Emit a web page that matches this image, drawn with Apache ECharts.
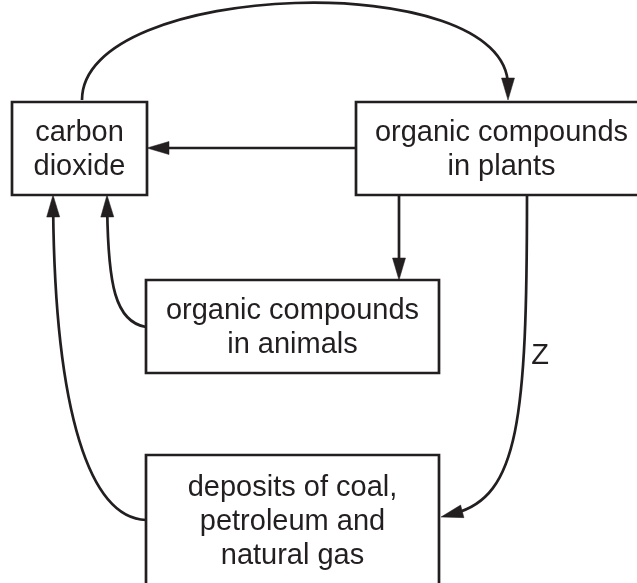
<!DOCTYPE html>
<html>
<head>
<meta charset="utf-8">
<title>Carbon cycle</title>
<script src="https://cdn.jsdelivr.net/npm/echarts@6/dist/echarts.min.js"></script>
<style>
  html, body { margin: 0; padding: 0; background: #fff; }
  #main { width: 637px; height: 583px; }
</style>
</head>
<body>
<div id="main"></div>
<script>
// boxes of the diagram (pixel-like units, y grows downwards)
const boxLabels = [
  "carbon\ndioxide",
  "organic compounds\nin plants",
  "organic compounds\nin animals",
  "deposits of coal,\npetroleum and\nnatural gas"
];
const boxLeft = [12, 356, 146, 146];
const boxTop = [102, 102, 280, 455];
const boxRight = [147, 647, 439, 439];
const boxBottom = [195, 195, 373, 587];

// arrows as cubic curves: start, control 1, control 2, end (end = arrow tip)
const co2ToPlants = [82, 100, 82, -20, 508, -20, 508, 100];
const plantsToCo2 = [356, 148, 290, 148, 210, 148, 147, 148];
const plantsToAnimals = [399, 195, 399, 225, 399, 250, 399, 280];
const plantsToDeposits = [527, 195, 527, 420, 505, 500, 441, 517];
const animalsToCo2 = [146, 327, 115, 322, 108, 270, 107, 195];
const depositsToCo2 = [146, 520, 90, 518, 55, 400, 53, 195];

// labels on arrows
const flowLabels = ["Z"];
const flowLabelX = [540];
const flowLabelY = [356];

const ink = "#231f20";
const font = "Liberation Sans";

const chart = echarts.init(document.getElementById("main"));

chart.setOption({
  animation: false,
  backgroundColor: "#fff",
  grid: { left: 0, right: 0, top: 0, bottom: 0 },
  xAxis: { type: "value", min: 0, max: 637, show: false },
  yAxis: { type: "value", min: 0, max: 583, inverse: true, show: false },
  series: [
    {
      type: "custom",
      name: "boxes",
      encode: { x: [0, 2], y: [1, 3] },
      data: boxLabels.map((_, i) => [boxLeft[i], boxTop[i], boxRight[i], boxBottom[i]]),
      renderItem: function (params, api) {
        const a = api.coord([api.value(0), api.value(1)]);
        const b = api.coord([api.value(2), api.value(3)]);
        return {
          type: "group",
          children: [
            {
              type: "rect",
              shape: { x: a[0], y: a[1], width: b[0] - a[0], height: b[1] - a[1] },
              style: { fill: "#fff", stroke: ink, lineWidth: 2.7 }
            },
            {
              type: "text",
              style: {
                text: boxLabels[params.dataIndex],
                x: (a[0] + b[0]) / 2,
                y: (a[1] + b[1]) / 2 + 1,
                align: "center",
                verticalAlign: "middle",
                fontFamily: font,
                fontSize: 29,
                lineHeight: 34,
                fill: ink
              }
            }
          ]
        };
      }
    },
    {
      type: "custom",
      name: "arrows",
      encode: { x: [0, 2, 4, 6], y: [1, 3, 5, 7] },
      data: [co2ToPlants, plantsToCo2, plantsToAnimals, plantsToDeposits, animalsToCo2, depositsToCo2],
      renderItem: function (params, api) {
        const p = [0, 1, 2, 3].map((k) => api.coord([api.value(2 * k), api.value(2 * k + 1)]));
        const tip = p[3];
        let dx = tip[0] - p[2][0];
        let dy = tip[1] - p[2][1];
        const len = Math.sqrt(dx * dx + dy * dy) || 1;
        dx /= len; dy /= len;
        const headLen = 22, headHalf = 6.5, cut = 14;
        const base = [tip[0] - dx * headLen, tip[1] - dy * headLen];
        return {
          type: "group",
          children: [
            {
              type: "bezierCurve",
              shape: {
                x1: p[0][0], y1: p[0][1],
                cpx1: p[1][0], cpy1: p[1][1],
                cpx2: p[2][0] - dx * cut, cpy2: p[2][1] - dy * cut,
                x2: tip[0] - dx * cut, y2: tip[1] - dy * cut
              },
              style: { fill: null, stroke: ink, lineWidth: 2.7 }
            },
            {
              type: "polygon",
              shape: {
                points: [
                  tip,
                  [base[0] - dy * headHalf, base[1] + dx * headHalf],
                  [base[0] + dy * headHalf, base[1] - dx * headHalf]
                ]
              },
              style: { fill: ink, stroke: ink, lineWidth: 0.5 }
            }
          ]
        };
      }
    },
    {
      type: "custom",
      name: "flow labels",
      encode: { x: 0, y: 1 },
      data: flowLabels.map((_, i) => [flowLabelX[i], flowLabelY[i]]),
      renderItem: function (params, api) {
        const c = api.coord([api.value(0), api.value(1)]);
        return {
          type: "text",
          style: {
            text: flowLabels[params.dataIndex],
            x: c[0],
            y: c[1],
            align: "center",
            verticalAlign: "middle",
            fontFamily: font,
            fontSize: 29,
            fill: ink
          }
        };
      }
    }
  ]
});
</script>
</body>
</html>
